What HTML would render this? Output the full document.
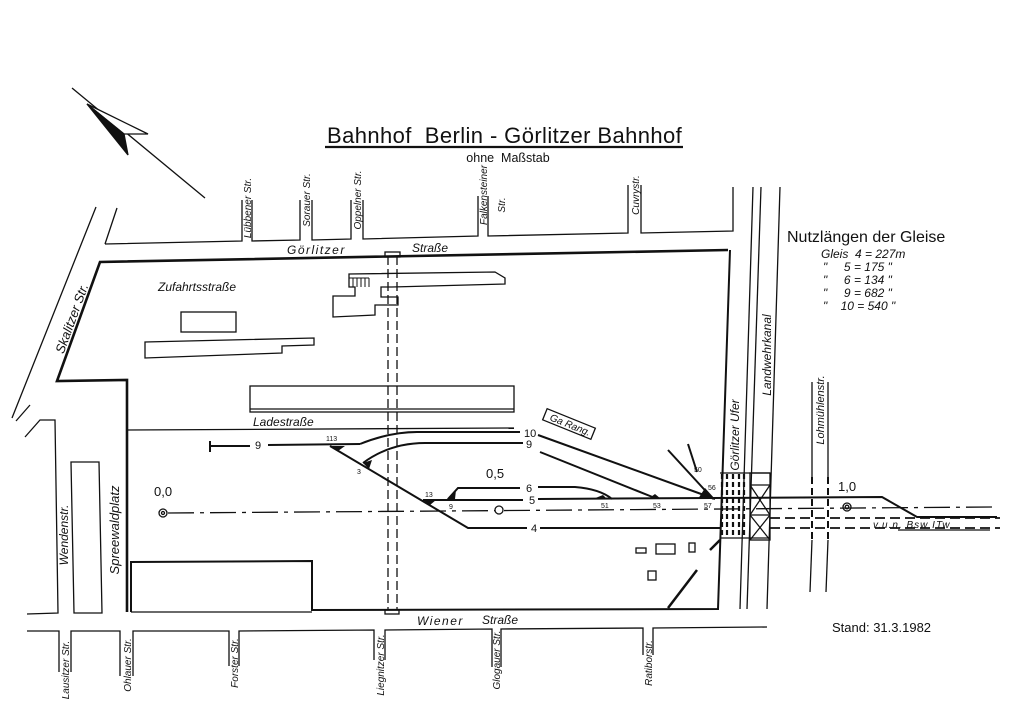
<!DOCTYPE html>
<html><head><meta charset="utf-8"><style>
html,body{margin:0;padding:0;background:#fff}
svg{display:block}
text{font-family:"Liberation Sans",sans-serif;fill:#111}
.i{font-style:italic}
</style></head><body>
<svg width="1024" height="724" viewBox="0 0 1024 724" xmlns="http://www.w3.org/2000/svg">
<rect width="1024" height="724" fill="#fff"/>
<g stroke="#111" fill="none" stroke-width="1.3">
<line x1="72" y1="88" x2="205" y2="198"/>
<polygon points="87,104 148,134 124,134" fill="#fff"/>
<polygon points="87,104 124,134 128,155" fill="#111"/>
<line x1="325" y1="147" x2="683" y2="147" stroke-width="2.2"/>

<polyline points="105,244 242,241 242,200"/>
<polyline points="252,200 252,241 300,240 300,200"/>
<polyline points="312,200 312,240 351,239 351,200"/>
<polyline points="363,200 363,239 478,236 478,196"/>
<polyline points="488,196 488,236 628,233 628,185"/>
<polyline points="641,185 641,233 733,231 733,187"/>
<line x1="96" y1="207" x2="12" y2="418"/>
<line x1="117" y1="208" x2="105" y2="244"/>
<polyline points="728,250 100,262 57,381 127,380 127,612" stroke-width="2.6"/>
<polyline points="730,250 718,609 312,610 312,561 131,562 131,612" stroke-width="2"/>
<line x1="131" y1="612" x2="312" y2="612"/>
<polyline points="16,421 30,405"/>
<polyline points="25,437 40,420 55,420 58,613 27,614"/>
<polygon points="71,462 99,462 102,613 74,613"/>
<polyline points="27,631 59,631 59,672"/>
<polyline points="71,672 71,631 120,631 120,676"/>
<polyline points="133,676 133,631 229,631 229,666"/>
<polyline points="239,666 239,631 374,630 374,660"/>
<polyline points="385,660 385,630 492,629 492,667"/>
<polyline points="501,667 501,629 643,628 643,655"/>
<polyline points="653,655 653,628 767,627"/>
<line x1="753" y1="187" x2="740" y2="609"/>
<line x1="761" y1="187" x2="747" y2="609"/>
<line x1="780" y1="187" x2="767" y2="609"/>
<line x1="812" y1="382" x2="812" y2="477"/>
<line x1="828" y1="382" x2="828" y2="477"/>
<line x1="812" y1="540" x2="810" y2="592"/>
<line x1="828" y1="540" x2="826" y2="592"/>
<g stroke-dasharray="7,4" stroke-width="2"><line x1="812" y1="477" x2="812" y2="540"/><line x1="828" y1="477" x2="828" y2="540"/></g>
<g stroke-dasharray="9,4"><line x1="388" y1="256" x2="388" y2="610"/><line x1="397" y1="256" x2="397" y2="610"/></g>
<rect x="385" y="252" width="15" height="5"/>
<rect x="385" y="610" width="14" height="4"/>
<polygon points="349,274 495,272 505,278 505,284 392,287 381,287 381,297 398,297 398,305 375,305 375,315 333,317 333,296 355,296 355,287 349,287"/>
<g stroke-width="1"><line x1="353" y1="278" x2="353" y2="287"/><line x1="357" y1="278" x2="357" y2="287"/><line x1="361" y1="278" x2="361" y2="287"/><line x1="365" y1="278" x2="365" y2="287"/><line x1="349" y1="278" x2="369" y2="278"/><line x1="369" y1="278" x2="369" y2="287"/></g>
<rect x="181" y="312" width="55" height="20"/>
<polygon points="145,342 314,338 314,345 282,346 282,353 145,358"/>
<rect x="250" y="386" width="264" height="26"/>
<line x1="250" y1="409" x2="514" y2="409"/>
<line x1="127" y1="430" x2="514" y2="428"/>
<rect x="636" y="548" width="10" height="5"/>
<rect x="656" y="544" width="19" height="10"/>
<rect x="689" y="543" width="6" height="9"/>
<rect x="648" y="571" width="8" height="9"/>
<line x1="668" y1="608" x2="697" y2="570" stroke-width="2.5"/>
<line x1="710" y1="550" x2="720" y2="540" stroke-width="2.5"/>
<g stroke-width="2">
<line x1="210" y1="441" x2="210" y2="452"/>
<line x1="210" y1="446" x2="250" y2="446"/>
<line x1="268" y1="445" x2="360" y2="444"/>
<path d="M360,444 Q390,432 417,432 L520,432"/>
<line x1="538" y1="435" x2="715" y2="499"/>
<path d="M363,463 Q390,443 425,443 L523,443"/>
<line x1="540" y1="452" x2="655" y2="498"/>
<polyline points="330,446 468,528 527,528"/>
<line x1="540" y1="528" x2="720" y2="528"/>
<line x1="423" y1="500" x2="523" y2="500"/>
<polyline points="538,499 882,497 917,517 997,517"/>
<polyline points="448,499 458,488 520,488"/>
<path d="M538,487 L575,487 Q600,489 612,499"/>
<line x1="668" y1="450" x2="713" y2="499"/>
<line x1="688" y1="444" x2="697" y2="472"/>
</g>
<g fill="#111" stroke="none">
<polygon points="330,446 345,446 338,451"/>
<polygon points="363,463 372,460 369,469"/>
<polygon points="423,500 436,500 430,505"/>
<polygon points="447,499 456,490 455,499"/>
<polygon points="593,499 607,499 603,495"/>
<polygon points="648,499 661,499 655,494"/>
<polygon points="698,499 715,499 705,488"/>
</g>
<line x1="168" y1="513" x2="995" y2="507" stroke-dasharray="26,6,4,6"/>
<circle cx="163" cy="513" r="4"/><circle cx="163" cy="513" r="1.5"/>
<circle cx="499" cy="510" r="4" fill="#fff"/>
<circle cx="847" cy="507" r="4"/><circle cx="847" cy="507" r="1.8"/>
<g stroke-dasharray="10,5" stroke-width="1.8"><line x1="770" y1="518" x2="1000" y2="518"/><line x1="770" y1="528" x2="1000" y2="528"/></g>
<rect x="750" y="473" width="20" height="67"/>
<line x1="750" y1="485" x2="770" y2="485"/><line x1="750" y1="515" x2="770" y2="515"/>
<line x1="750" y1="485" x2="770" y2="515"/><line x1="770" y1="485" x2="750" y2="515"/>
<line x1="750" y1="515" x2="770" y2="540"/><line x1="770" y1="515" x2="750" y2="540"/>
<g stroke-dasharray="5,3" stroke-width="2.2">
<line x1="722" y1="474" x2="722" y2="538"/><line x1="727" y1="474" x2="727" y2="538"/>
<line x1="733" y1="474" x2="733" y2="538"/><line x1="739" y1="474" x2="739" y2="538"/>
<line x1="744" y1="474" x2="744" y2="538"/>
</g>
<line x1="720" y1="473" x2="770" y2="473"/>
<line x1="720" y1="538" x2="770" y2="538"/>
<rect x="543" y="418" width="52" height="12" transform="rotate(22 569 424)"/>
<line x1="898" y1="530" x2="990" y2="530"/>
</g>

<text x="327" y="143" font-size="22" letter-spacing="0.4">Bahnhof&#160;&#160;Berlin&#160;-&#160;Görlitzer&#160;Bahnhof</text>
<text x="508" y="162" font-size="12.5" text-anchor="middle">ohne&#160;&#160;Maßstab</text>
<text x="787" y="242" font-size="16">Nutzlängen der Gleise</text>
<g class="i" font-size="12">
<text x="821" y="258">Gleis&#160;&#160;4 = 227m</text>
<text x="823" y="271">"&#160;&#160;&#160;&#160;&#160;5 = 175 "</text>
<text x="823" y="284">"&#160;&#160;&#160;&#160;&#160;6 = 134 "</text>
<text x="823" y="297">"&#160;&#160;&#160;&#160;&#160;9 = 682 "</text>
<text x="823" y="310">"&#160;&#160;&#160;&#160;10 = 540 "</text>
</g>
<text x="832" y="632" font-size="13">Stand:&#160;31.3.1982</text>
<g class="i" font-size="12">
<text x="287" y="254" letter-spacing="1.5">Görlitzer</text>
<text x="412" y="252">Straße</text>
<text x="158" y="291">Zufahrtsstraße</text>
<text x="253" y="426">Ladestraße</text>
<text x="417" y="625" letter-spacing="1.5">Wiener</text>
<text x="482" y="624">Straße</text>
<text transform="translate(76,320) rotate(-70)" text-anchor="middle" font-size="13">Skalitzer Str.</text>
<text transform="translate(68,535) rotate(-90)" text-anchor="middle">Wendenstr.</text>
<text transform="translate(119,530) rotate(-90)" text-anchor="middle" font-size="13">Spreewaldplatz</text>
<text transform="translate(739,435) rotate(-90)" text-anchor="middle">Görlitzer Ufer</text>
<text transform="translate(771,355) rotate(-90)" text-anchor="middle">Landwehrkanal</text>
<text transform="translate(824,410) rotate(-90)" text-anchor="middle" font-size="11">Lohmühlenstr.</text>
<text transform="translate(569,428) rotate(22)" text-anchor="middle" font-size="10">Ga Rang.</text>
</g>
<g class="i" font-size="10">
<text transform="translate(251,208) rotate(-90)" text-anchor="middle">Lübbener Str.</text>
<text transform="translate(310,200) rotate(-90)" text-anchor="middle">Sorauer Str.</text>
<text transform="translate(361,200) rotate(-90)" text-anchor="middle">Oppelner Str.</text>
<text transform="translate(487,195) rotate(-90)" text-anchor="middle">Falkensteiner</text>
<text transform="translate(505,205) rotate(-90)" text-anchor="middle">Str.</text>
<text transform="translate(639,195) rotate(-90)" text-anchor="middle">Cuvrystr.</text>
<text transform="translate(69,670) rotate(-90)" text-anchor="middle">Lausitzer Str.</text>
<text transform="translate(131,665) rotate(-90)" text-anchor="middle">Ohlauer Str.</text>
<text transform="translate(238,663) rotate(-90)" text-anchor="middle">Forster Str.</text>
<text transform="translate(384,665) rotate(-90)" text-anchor="middle">Liegnitzer Str.</text>
<text transform="translate(500,660) rotate(-90)" text-anchor="middle">Glogauer Str.</text>
<text transform="translate(652,663) rotate(-90)" text-anchor="middle">Ratiborstr.</text>
<text x="873" y="528" letter-spacing="1">v.u.n. Bsw ITw</text>
</g>
<g font-size="11">
<text x="255" y="449">9</text>
<text x="524" y="437">10</text>
<text x="526" y="448">9</text>
<text x="526" y="492">6</text>
<text x="529" y="504">5</text>
<text x="531" y="532">4</text>
</g>
<g font-size="7">
<text x="326" y="441">113</text><text x="357" y="474">3</text>
<text x="425" y="497">13</text><text x="449" y="509">9</text>
<text x="601" y="508">51</text><text x="653" y="508">53</text>
<text x="704" y="508">57</text><text x="708" y="490">56</text>
<text x="694" y="472">50</text>
</g>
<g font-size="13">
<text x="154" y="496">0,0</text>
<text x="486" y="478">0,5</text>
<text x="838" y="491">1,0</text>
</g>
</svg>
</body></html>
